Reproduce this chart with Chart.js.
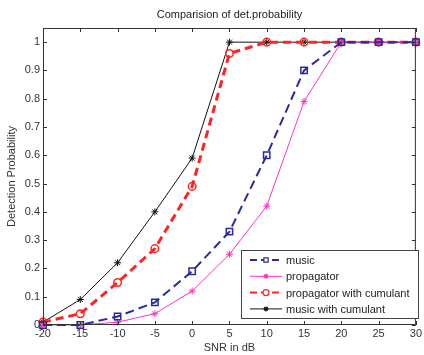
<!DOCTYPE html>
<html>
<head>
<meta charset="utf-8">
<script src="https://cdn.jsdelivr.net/npm/chart.js@4"></script>
<style>
  html, body { margin: 0; padding: 0; background: #fff; }
  #wrap { width: 424px; height: 355px; position: relative; }
</style>
</head>
<body>
<div id="wrap"><canvas id="detChart" width="424" height="355"></canvas></div>
<script>
const snr = [-20, -15, -10, -5, 0, 5, 10, 15, 20, 25, 30];
const music = [0.0, 0.0, 0.03, 0.08, 0.19, 0.33, 0.6, 0.9, 1, 1, 1];
const propagator = [0.0, 0.0, 0.01, 0.04, 0.12, 0.25, 0.42, 0.79, 1, 1, 1];
const propCumulant = [0.01, 0.04, 0.15, 0.27, 0.49, 0.96, 1, 1, 1, 1, 1];
const musicCumulant = [0.01, 0.09, 0.22, 0.40, 0.59, 1, 1, 1, 1, 1, 1];
const xTicks = [-20, -15, -10, -5, 0, 5, 10, 15, 20, 25, 30];
const yTicks = [0, 0.1, 0.2, 0.3, 0.4, 0.5, 0.6, 0.7, 0.8, 0.9, 1];

const FONT = 'Liberation Sans, Arial, sans-serif';

function series(label, values, color, opts) {
    return {
        label: label,
        data: snr.map((x, i) => ({ x: x, y: values[i] })),
        borderColor: color,
        backgroundColor: 'rgba(0,0,0,0)',
        pointBorderColor: color,
        pointBackgroundColor: 'rgba(0,0,0,0)',
        tension: 0,
        clip: false,
        ...opts
    };
}

// frame, inward ticks, title and legend box
const framePlugin = {
    id: 'frame',
    afterDraw(chart) {
        const ctx = chart.ctx;
        const a = chart.chartArea;
        const xs = chart.scales.x, ys = chart.scales.y;
        ctx.save();
        ctx.strokeStyle = '#333';
        ctx.lineWidth = 1;
        ctx.strokeRect(a.left + 0.5, a.top + 0.5, a.right - a.left - 1, a.bottom - a.top - 1);
        ctx.beginPath();
        xTicks.forEach(v => {
            const px = Math.round(xs.getPixelForValue(v)) + 0.5;
            ctx.moveTo(px, a.bottom); ctx.lineTo(px, a.bottom - 4);
            ctx.moveTo(px, a.top); ctx.lineTo(px, a.top + 4);
        });
        yTicks.forEach(v => {
            const py = Math.round(ys.getPixelForValue(v)) + 0.5;
            ctx.moveTo(a.left, py); ctx.lineTo(a.left + 4, py);
            ctx.moveTo(a.right, py); ctx.lineTo(a.right - 4, py);
        });
        ctx.stroke();

        ctx.fillStyle = '#222';
        ctx.font = '11px ' + FONT;
        ctx.textAlign = 'center';
        ctx.textBaseline = 'middle';
        ctx.fillText('Comparision of det.probability', (a.left + a.right) / 2, 15);

        // legend
        const lx = 241, ly = 250, lw = 177, lh = 68;
        ctx.fillStyle = '#fff';
        ctx.fillRect(lx, ly, lw, lh);
        ctx.strokeStyle = '#444';
        ctx.strokeRect(lx + 0.5, ly + 0.5, lw, lh);
        chart.data.datasets.forEach((ds, i) => {
            const y = ly + 10 + i * 16.3;
            ctx.save();
            ctx.strokeStyle = ds.borderColor;
            ctx.lineWidth = ds.borderWidth > 1 ? 2 : 1;
            ctx.setLineDash(ds.borderDash ? [7, 4] : []);
            ctx.beginPath();
            ctx.moveTo(250, y); ctx.lineTo(282, y);
            ctx.stroke();
            ctx.setLineDash([]);
            ctx.fillStyle = '#fff';
            ctx.lineWidth = 1.2;
            Chart.helpers.drawPoint(ctx, {
                pointStyle: ds.pointStyle,
                radius: ds.pointStyle === 'star' ? 2.5 : 3,
                borderWidth: 1.2
            }, 266, y);
            ctx.restore();
            ctx.fillStyle = '#222';
            ctx.font = '11px ' + FONT;
            ctx.textAlign = 'left';
            ctx.fillText(ds.label, 286, y + 1);
        });
        ctx.restore();
    }
};

const ctx = document.getElementById('detChart').getContext('2d');
new Chart(ctx, {
    type: 'line',
    data: {
        datasets: [
            series('music', music, '#2a2a9c', {
                borderWidth: 2, borderDash: [9, 5], pointStyle: 'rect',
                pointRadius: 4.5, pointBorderWidth: 1.5
            }),
            series('propagator', propagator, '#ff33c0', {
                borderWidth: 1, pointStyle: 'star', pointRadius: 3.5, pointBorderWidth: 1
            }),
            series('propagator with cumulant', propCumulant, '#ff2424', {
                borderWidth: 3, borderDash: [8, 5], pointStyle: 'circle',
                pointRadius: 3.8, pointBorderWidth: 1.5
            }),
            series('music with cumulant', musicCumulant, '#111111', {
                borderWidth: 1, pointStyle: 'star', pointRadius: 3.5, pointBorderWidth: 1
            })
        ]
    },
    options: {
        responsive: false,
        animation: false,
        layout: { padding: { top: 28, right: 6, left: 0, bottom: 0 } },
        plugins: {
            legend: { display: false },
            tooltip: { enabled: false }
        },
        scales: {
            x: {
                type: 'linear',
                min: -20,
                max: 30,
                afterBuildTicks: s => { s.ticks = xTicks.map(v => ({ value: v })); },
                afterFit: s => { s.height = 30; },
                grid: { display: false, drawTicks: false },
                border: { display: false },
                ticks: {
                    color: '#333',
                    padding: 2,
                    font: { family: FONT, size: 11 },
                    maxRotation: 0,
                    callback: v => String(v)
                },
                title: {
                    display: true,
                    text: 'SNR in dB',
                    color: '#333',
                    padding: 0,
                    font: { family: FONT, size: 11 }
                }
            },
            y: {
                min: 0,
                max: 1.05,
                afterBuildTicks: s => { s.ticks = yTicks.map(v => ({ value: v })); },
                afterFit: s => { s.width = 43; },
                grid: { display: false, drawTicks: false },
                border: { display: false },
                ticks: {
                    color: '#333',
                    padding: 3,
                    font: { family: FONT, size: 11 },
                    callback: v => String(Math.round(v * 10) / 10)
                },
                title: {
                    display: true,
                    text: 'Detection Probability',
                    color: '#333',
                    padding: { top: 5, bottom: 0 },
                    font: { family: FONT, size: 11 }
                }
            }
        }
    },
    plugins: [framePlugin]
});
</script>
</body>
</html>
